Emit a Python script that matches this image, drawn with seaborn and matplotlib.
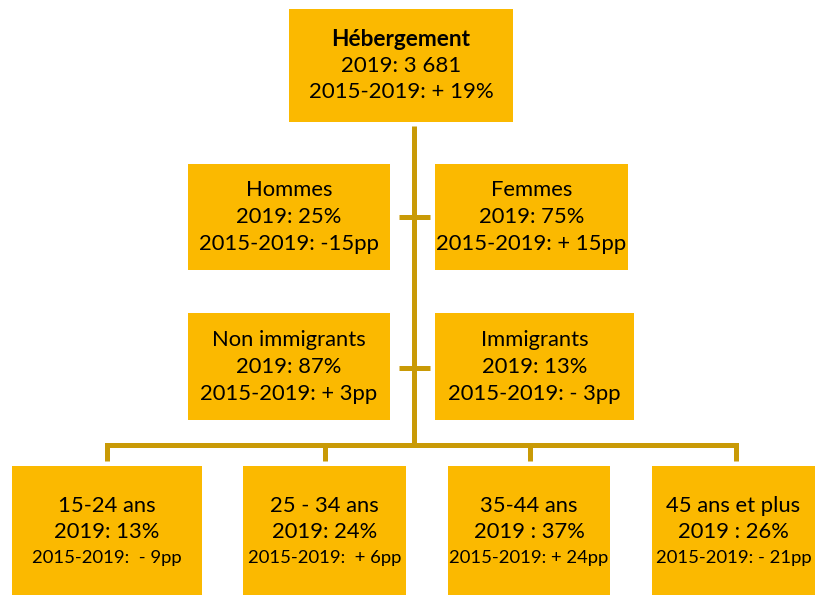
import matplotlib
matplotlib.use("Agg")
import matplotlib.pyplot as plt
from matplotlib.patches import Rectangle
import seaborn as sns

# données
titre = "Hébergement"
titre_2019 = "2019: 3 681"
titre_var = "2015-2019: + 19%"

sexe = ["Hommes", "Femmes"]
sexe_2019 = ["2019: 25%", "2019: 75%"]
sexe_var = ["2015-2019: -15pp", "2015-2019: + 15pp"]

immig = ["Non immigrants", "Immigrants"]
immig_2019 = ["2019: 87%", "2019: 13%"]
immig_var = ["2015-2019: + 3pp", "2015-2019: - 3pp"]

ages = ["15-24 ans", "25 - 34 ans", "35-44 ans", "45 ans et plus"]
ages_2019 = ["2019: 13%", "2019: 24%", "2019 : 37%", "2019 : 26%"]
ages_var = ["2015-2019:  - 9pp", "2015-2019:  + 6pp", "2015-2019: + 24pp", "2015-2019: - 21pp"]

sns.set_theme(style="white")
plt.rcParams["font.family"] = ["Lato", "DejaVu Sans"]

JAUNE = "#FBB900"
TRAIT = "#C99A06"

fig = plt.figure(figsize=(8.26, 5.95), dpi=100)
ax = fig.add_axes([0, 0, 1, 1])
ax.set_xlim(0, 826)
ax.set_ylim(595, 0)
ax.axis("off")


def boite(x0, x1, y0, y1):
    ax.add_patch(Rectangle((x0, y0), x1 - x0, y1 - y0, color=JAUNE, lw=0, zorder=2))


def lignes(xc, yc, textes, tailles, gras=None, pas=26.5):
    n = len(textes)
    for i, (t, s) in enumerate(zip(textes, tailles)):
        y = yc + (i - (n - 1) / 2) * pas
        w = "bold" if gras == i else "normal"
        ax.text(xc, y, t, ha="center", va="center", fontsize=s, fontweight=w,
                color="black", zorder=3)


# traits de liaison
lw = 3.6
ax.plot([414, 414], [126, 447], color=TRAIT, lw=lw, solid_capstyle="butt", zorder=1)
for yt in [217, 368]:
    ax.plot([399, 430], [yt, yt], color=TRAIT, lw=lw, solid_capstyle="butt", zorder=1)
xs_bas = [107, 325, 530, 736]
ax.plot([xs_bas[0], xs_bas[-1]], [445, 445], color=TRAIT, lw=lw, solid_capstyle="projecting", zorder=1)
for xb in xs_bas:
    ax.plot([xb, xb], [445, 461], color=TRAIT, lw=lw, solid_capstyle="butt", zorder=1)

# boîte du haut
boite(289, 513, 9, 122)
lignes(401, 66, [titre, titre_2019, titre_var], [16.3, 16.0, 16.0], gras=0)

# sexe
for (x0, x1), a, b, c in zip([(188, 390), (435, 628)], sexe, sexe_2019, sexe_var):
    boite(x0, x1, 164, 270)
    lignes((x0 + x1) / 2, 217, [a, b, c], [15.8, 15.8, 15.8])

# immigration
for (x0, x1), a, b, c in zip([(188, 390), (435, 634)], immig, immig_2019, immig_var):
    boite(x0, x1, 313, 420)
    lignes((x0 + x1) / 2, 367, [a, b, c], [15.8, 15.8, 15.8])

# âges
for (x0, x1), a, b, c in zip([(12, 202), (243, 406), (448, 610), (652, 815)], ages, ages_2019, ages_var):
    boite(x0, x1, 466, 600)
    lignes((x0 + x1) / 2, 532, [a, b, c], [15.8, 15.8, 13.3], pas=26.5)

fig.savefig("out.png", dpi=100)
